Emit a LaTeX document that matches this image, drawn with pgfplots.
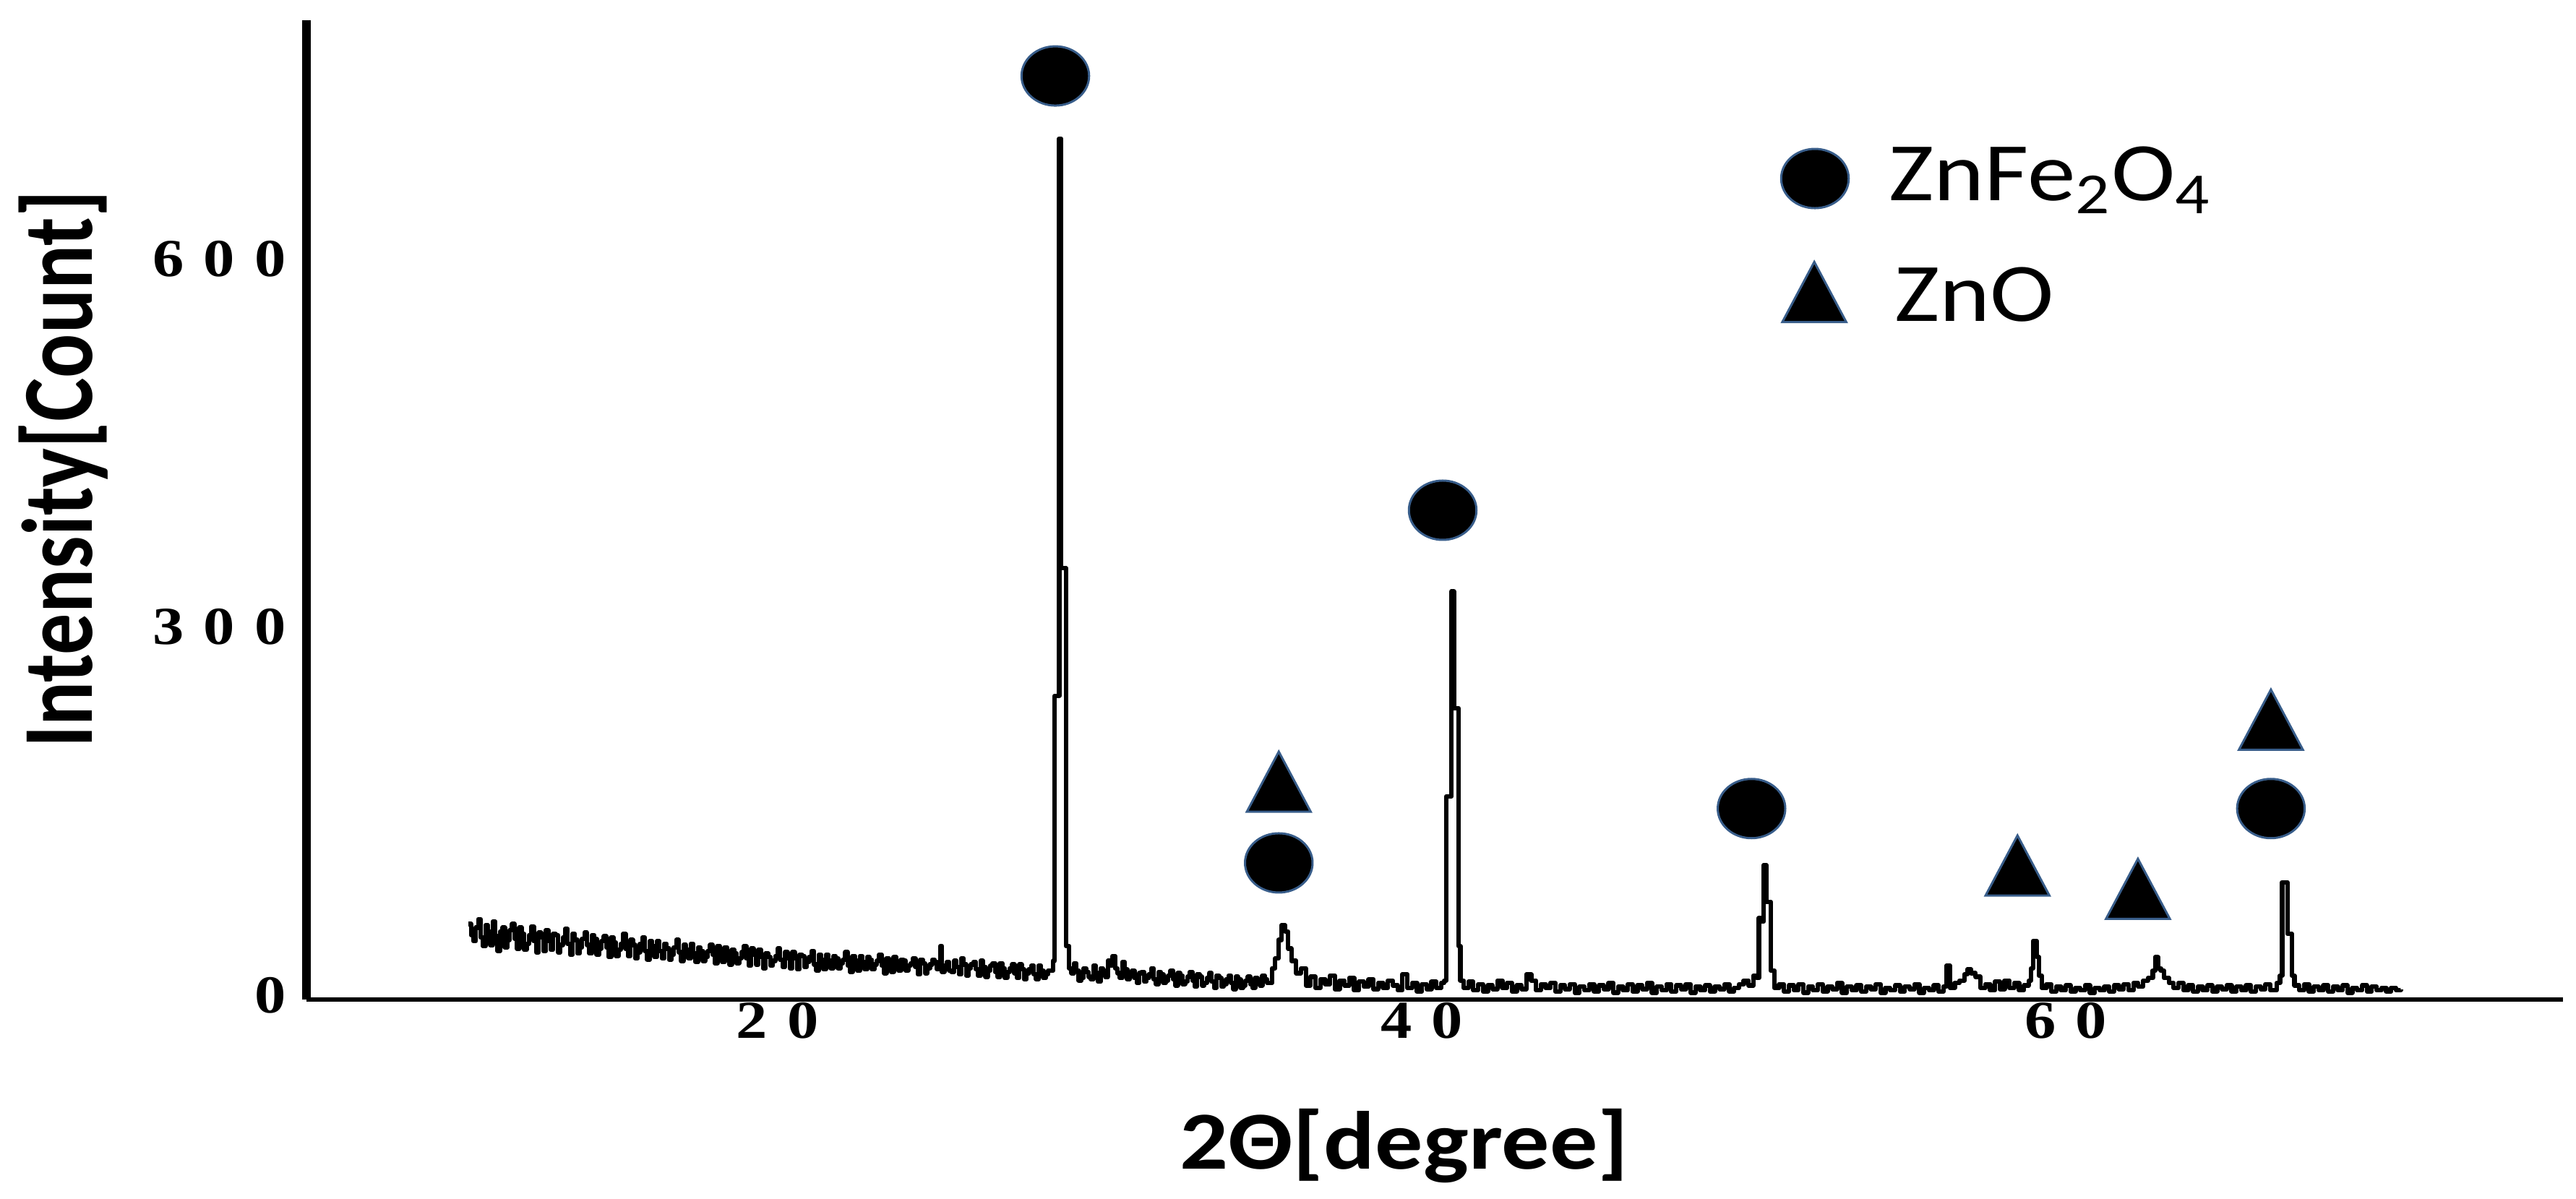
\documentclass[border=0pt]{standalone}
\usepackage{fontspec}
\usepackage{graphicx}
\usepackage{pgfplots}
\pgfplotsset{compat=1.18}
\setmainfont{Carlito}
\newfontfamily\labelfont[FakeStretch=1.16]{Carlito}
\newfontfamily\tickfont[FakeStretch=1.17]{Liberation Serif}
\definecolor{markedge}{RGB}{56,93,138}
\begin{document}
\begin{tikzpicture}
\useasboundingbox (-84.8pt,-55.2pt) rectangle (628pt,276.6pt);
\begin{axis}[
  at={(0pt,0pt)}, anchor=south west,
  scale only axis,
  width=624.4pt, height=271pt,
  xmin=5.365, xmax=75.44,
  ymin=-3.53, ymax=794.5,
  axis lines=left,
  axis line style={-},
  x axis line style={line width=1.2pt},
  y axis line style={line width=2.3pt},
  major tick length=0pt,
  xtick={20,40,60},
  xticklabels={{2\hspace{5.5pt}0},{4\hspace{5.5pt}0},{6\hspace{5.5pt}0}},
  ytick={0,300,600},
  yticklabels={{0},{3\hspace{5.5pt}0\hspace{5.5pt}0},{6\hspace{5.5pt}0\hspace{5.5pt}0}},
  tick label style={font=\tickfont\bfseries\fontsize{14.8}{16}\selectfont, inner sep=0pt},
  xticklabel style={anchor=north, yshift=-0.6pt},
  yticklabel style={anchor=east, xshift=-5.4pt},
  xlabel={\labelfont\bfseries\fontsize{22.8}{27}\selectfont 2Θ[degree]},
  xlabel style={at={(axis description cs:0.4866,-0.1734)}, anchor=base},
  ylabel={\scalebox{1}[1.22]{\bfseries\fontsize{22.8}{27}\selectfont Intensity[Count]}},
  ylabel style={at={(axis description cs:-0.0951,0.5413)}, anchor=base, rotate=0},
  clip=false,
]
\addplot[black, line width=1.25pt, line join=round, const plot] table {
x y
10.400 58
10.475 49
10.550 44
10.625 55
10.700 62
10.775 47
10.850 40
10.925 57
11.000 52
11.075 41
11.150 60
11.225 48
11.300 36
11.375 52
11.450 55
11.525 39
11.600 45
11.675 53
11.750 58
11.825 46
11.900 38
11.975 55
12.050 50
12.125 37
12.200 42
12.275 49
12.350 56
12.425 44
12.500 35
12.575 51
12.650 47
12.725 36
12.800 53
12.875 44
12.950 37
13.025 50
13.100 49
13.175 35
13.250 41
13.325 47
13.400 54
13.475 42
13.550 33
13.625 50
13.700 45
13.775 34
13.850 39
13.925 46
14.000 51
14.075 41
14.150 34
14.225 49
14.300 46
14.375 33
14.450 38
14.525 44
14.600 48
14.675 39
14.750 31
14.825 47
14.900 43
14.975 32
15.050 37
15.125 42
15.200 50
15.275 38
15.350 32
15.425 45
15.500 41
15.575 30
15.650 35
15.725 42
15.800 47
15.875 36
15.950 29
16.025 44
16.100 40
16.175 31
16.250 44
16.325 36
16.400 30
16.475 42
16.550 38
16.625 29
16.700 33
16.775 39
16.850 45
16.925 35
17.000 28
17.075 41
17.150 37
17.225 30
17.300 42
17.375 34
17.450 27
17.525 39
17.600 36
17.675 28
17.750 31
17.825 36
17.900 41
17.975 33
18.050 26
18.125 40
18.200 35
18.275 27
18.350 39
18.425 33
18.500 25
18.575 37
18.650 34
18.725 26
18.800 30
18.875 35
18.950 40
19.025 30
19.100 24
19.175 38
19.250 33
19.325 25
19.400 37
19.475 31
19.550 22
19.625 34
19.700 31
19.775 24
19.850 28
19.925 32
20.000 38
20.075 29
20.150 23
20.225 35
20.300 30
20.375 22
20.450 35
20.525 30
20.600 21
20.675 33
20.750 32
20.825 23
20.900 27
20.975 31
21.050 36
21.125 25
21.200 20
21.275 33
21.350 29
21.425 21
21.500 33
21.575 28
21.650 22
21.725 32
21.800 30
21.875 22
21.950 26
22.025 29
22.100 35
22.175 24
22.250 19
22.325 32
22.400 28
22.475 20
22.550 32
22.625 27
22.700 21
22.775 31
22.850 29
22.925 21
23.000 25
23.075 28
23.150 33
23.225 24
23.300 18
23.375 30
23.450 27
23.525 19
23.600 31
23.675 26
23.750 20
23.825 29
23.900 28
23.975 20
24.050 24
24.125 26
24.200 30
24.275 23
24.350 17
24.425 29
24.500 26
24.575 18
24.650 22
24.725 25
24.800 29
24.875 27
24.950 21
25.050 40
25.100 19
25.175 24
25.250 27
25.325 20
25.400 19
25.475 28
25.550 23
25.625 17
25.700 30
25.775 25
25.850 16
25.925 22
26.000 25
26.075 27
26.150 21
26.225 16
26.300 28
26.375 23
26.450 15
26.525 20
26.600 24
26.675 26
26.750 19
26.825 15
26.900 26
26.975 22
27.050 14
27.125 19
27.200 22
27.275 25
27.350 18
27.425 14
27.500 25
27.575 21
27.650 13
27.725 18
27.800 21
27.875 24
27.950 17
28.025 13
28.100 24
28.175 20
28.250 14
28.325 17
28.400 20
28.550 28
28.600 244
28.660 244
28.740 698
28.800 348
28.900 348
28.950 40
29.050 22
29.125 18
29.200 26
29.275 20
29.350 12
29.425 14
29.500 22
29.575 19
29.650 15
29.725 13
29.800 24
29.875 18
29.950 11
30.025 22
30.100 20
30.175 15
30.250 28
30.325 24
30.400 32
30.475 22
30.550 18
30.625 14
30.700 27
30.775 21
30.850 13
30.925 17
31.000 20
31.075 14
31.150 10
31.225 18
31.300 19
31.375 11
31.450 14
31.525 17
31.600 22
31.675 13
31.750 9
31.825 19
31.900 17
31.975 10
32.050 12
32.125 16
32.200 20
32.275 13
32.350 8
32.425 18
32.500 16
32.575 9
32.650 11
32.725 15
32.800 19
32.875 12
32.950 7
33.025 17
33.100 15
33.175 8
33.250 10
33.325 14
33.400 18
33.475 11
33.550 6
33.625 16
33.700 14
33.775 7
33.850 9
33.925 13
34.000 16
34.075 10
34.150 5
34.225 15
34.300 13
34.375 6
34.450 8
34.525 12
34.600 15
34.675 9
34.750 6
34.825 14
34.900 12
34.975 8
35.050 16
35.125 13
35.200 10
35.350 22
35.450 30
35.550 45
35.650 57
35.750 52
35.850 38
35.950 28
36.100 18
36.250 22
36.400 8
36.550 15
36.700 6
36.850 13
37.000 9
37.150 16
37.300 5
37.450 12
37.600 8
37.750 14
37.900 4
38.050 11
38.200 7
38.350 13
38.500 5
38.650 10
38.800 6
38.950 12
39.100 8
39.250 4
39.400 17
39.550 6
39.700 10
39.850 3
40.000 9
40.150 5
40.300 11
40.450 6
40.600 10
40.700 12
40.760 162
40.840 162
40.920 329
41.000 234
41.080 234
41.140 40
41.200 12
41.300 6
41.450 11
41.600 4
41.750 9
41.900 3
42.050 8
42.200 5
42.350 12
42.500 6
42.650 10
42.800 3
42.950 8
43.100 5
43.250 17
43.400 12
43.550 4
43.700 9
43.850 6
44.000 10
44.150 3
44.300 8
44.450 5
44.600 9
44.750 2
44.900 7
45.050 4
45.200 9
45.350 3
45.500 8
45.650 5
45.800 10
45.950 2
46.100 7
46.250 4
46.400 9
46.550 3
46.700 8
46.850 5
47.000 10
47.150 2
47.300 7
47.450 4
47.600 9
47.750 3
47.900 8
48.050 5
48.200 9
48.350 2
48.500 7
48.650 4
48.800 8
48.950 3
49.100 7
49.250 5
49.400 9
49.550 3
49.700 6
49.850 9
50.000 12
50.150 8
50.300 16
50.400 14
50.470 63
50.530 60
50.620 106
50.700 76
50.780 76
50.840 20
50.950 6
51.100 9
51.250 3
51.400 8
51.550 4
51.700 9
51.850 2
52.000 7
52.150 4
52.300 9
52.450 3
52.600 7
52.750 5
52.900 10
53.050 2
53.200 7
53.350 4
53.500 8
53.650 3
53.800 7
53.950 5
54.100 9
54.250 2
54.400 6
54.550 4
54.700 8
54.850 3
55.000 7
55.150 5
55.300 9
55.450 2
55.600 6
55.750 4
55.900 8
56.050 3
56.200 7
56.300 24
56.400 6
56.550 10
56.700 12
56.850 17
56.950 21
57.050 18
57.200 15
57.350 6
57.500 9
57.650 4
57.800 11
57.950 5
58.100 12
58.250 6
58.400 10
58.550 4
58.700 8
58.850 12
58.920 22
58.980 44
59.040 44
59.100 31
59.160 16
59.250 6
59.400 9
59.550 3
59.700 7
59.850 4
60.000 8
60.150 3
60.300 6
60.450 4
60.600 8
60.750 2
60.900 6
61.050 4
61.200 7
61.350 3
61.500 8
61.650 5
61.800 9
61.950 4
62.100 10
62.250 7
62.400 12
62.550 14
62.700 20
62.780 31
62.860 22
62.950 20
63.050 14
63.200 10
63.350 6
63.500 10
63.650 4
63.800 8
63.950 3
64.100 7
64.250 4
64.400 8
64.550 3
64.700 7
64.850 5
65.000 8
65.150 3
65.300 7
65.450 4
65.600 8
65.750 3
65.900 7
66.050 5
66.200 9
66.350 4
66.550 10
66.650 16
66.720 92
66.800 92
66.880 50
66.960 50
67.020 16
67.100 8
67.250 4
67.400 9
67.550 3
67.700 7
67.850 4
68.000 8
68.150 3
68.300 7
68.450 4
68.600 8
68.750 2
68.900 6
69.050 4
69.200 8
69.350 3
69.500 7
69.650 4
69.800 6
69.950 3
70.100 6
70.250 4
70.400 5
};
% ZnFe2O4 markers (ellipses)
\addplot[only marks, mark=*, mark size=8.2pt,
  mark options={xscale=1.14, fill=black, draw=markedge, line width=0.6pt}]
  coordinates {(28.62,749.1) (40.65,395.2) (35.56,107.8) (50.24,152.1) (66.37,152.1) (52.21,665.5)};
% ZnO markers (triangles)
\addplot[only marks, mark=triangle*, mark size=11.1pt,
  mark options={xscale=0.92, fill=black, draw=markedge, line width=0.6pt}]
  coordinates {(35.56,165.8) (58.50,97.5) (62.24,78.5) (66.37,216.4) (52.19,564.9)};
\node[anchor=base west, inner sep=0pt, font=\labelfont\fontsize{23}{27}\selectfont]
  at (axis cs:54.48,647.8) {ZnFe\textsubscript{2}O\textsubscript{4}};
\node[anchor=base west, inner sep=0pt, font=\labelfont\fontsize{23}{27}\selectfont]
  at (axis cs:54.66,549) {ZnO};
\end{axis}
\end{tikzpicture}
\end{document}
